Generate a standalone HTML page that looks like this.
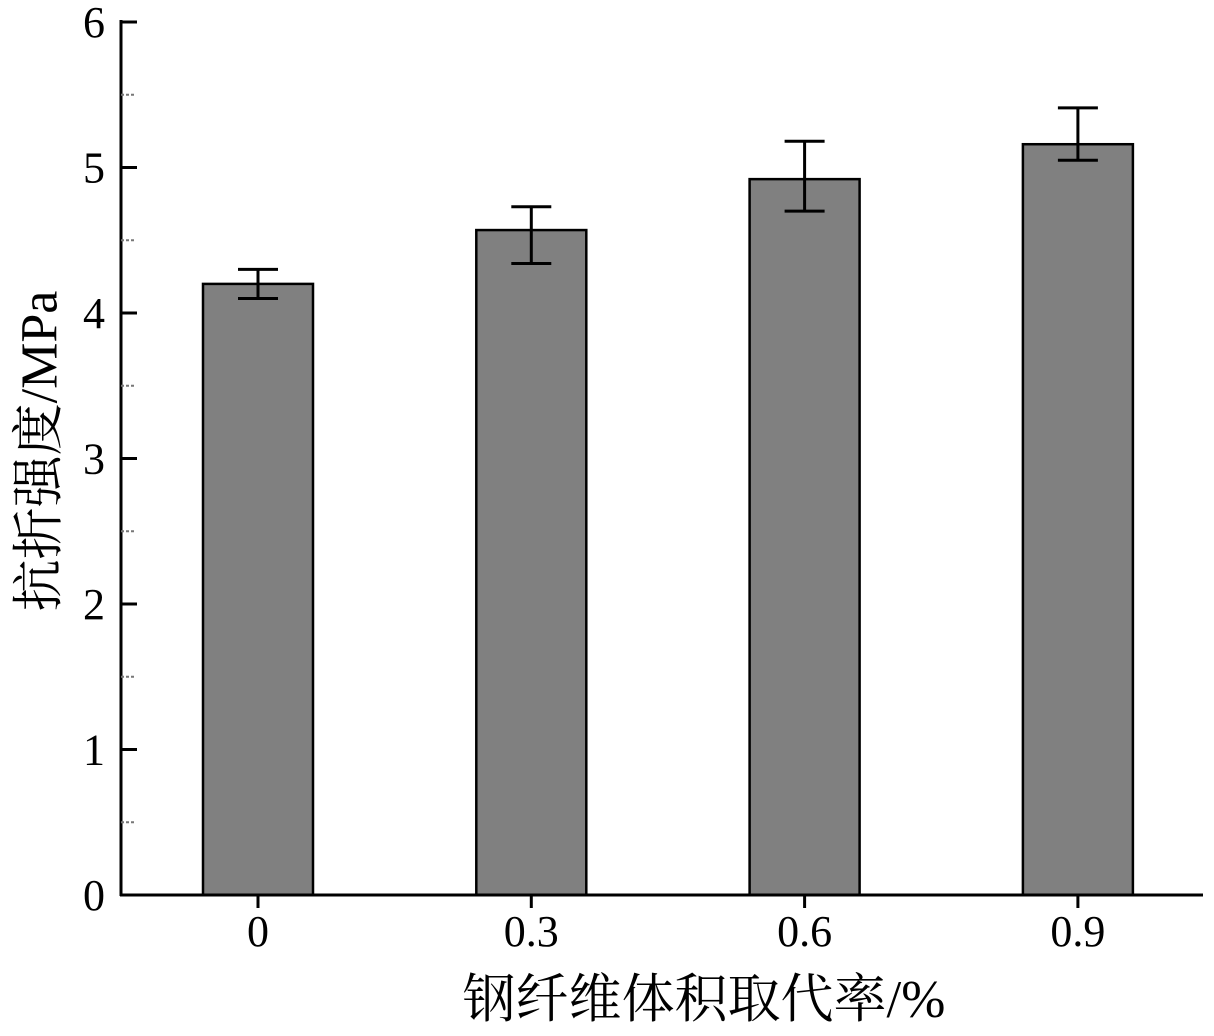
<!DOCTYPE html>
<html><head><meta charset="utf-8"><style>
html,body{margin:0;padding:0;background:#fff;}
svg{display:block;font-family:"Liberation Serif","Noto Serif CJK SC",serif;}
</style></head><body>
<svg id="chart" width="1214" height="1036" viewBox="0 0 1214 1036">
<g id="bars"></g>
<g id="axes"></g>
<text x="40" y="451" transform="rotate(-90 40 451)" text-anchor="middle" font-size="52" dominant-baseline="central">抗折强度/MPa</text>
<text x="704" y="1017" text-anchor="middle" font-size="53">钢纤维体积取代率/%</text>
</svg>
<script>
const categories = ["0","0.3","0.6","0.9"];
const values = [4.2, 4.57, 4.92, 5.16];
const errUpper = [4.30, 4.73, 5.18, 5.41];
const errLower = [4.10, 4.34, 4.70, 5.05];
const yTicks = [0,1,2,3,4,5,6];
const NS="http://www.w3.org/2000/svg";
const x0=121, x1=1203, y0=895, yTop=22;
const yScale=v=>y0-(v/6)*(y0-yTop);
const xCenter=i=>258+i*273.3;
const barW=110, capW=40;
function mk(tag,attrs,parent){const e=document.createElementNS(NS,tag);for(const k in attrs)e.setAttribute(k,attrs[k]);parent.appendChild(e);return e;}
const bars=document.getElementById('bars'), axes=document.getElementById('axes');
categories.forEach((c,i)=>{
  const cx=xCenter(i);
  const r=mk('rect',{x:cx-barW/2,y:yScale(values[i]),width:barW,height:y0-yScale(values[i]),fill:'#808080',stroke:'#000','stroke-width':2.5},bars);
  
  
  const g=mk('g',{stroke:'#000','stroke-width':3,fill:'none'},bars);
  
  
  mk('line',{x1:cx,x2:cx,y1:yScale(errUpper[i]),y2:yScale(errLower[i])},g);
  mk('line',{x1:cx-capW/2,x2:cx+capW/2,y1:yScale(errUpper[i]),y2:yScale(errUpper[i])},g);
  mk('line',{x1:cx-capW/2,x2:cx+capW/2,y1:yScale(errLower[i]),y2:yScale(errLower[i])},g);
  mk('line',{x1:cx,x2:cx,y1:y0,y2:y0+13,stroke:'#000','stroke-width':3},axes);
  const t=mk('text',{x:cx,y:946,'text-anchor':'middle','font-size':44},axes);
  t.textContent=c;
  
  
});
mk('line',{x1:x0,x2:x0,y1:yTop-2,y2:y0+1,stroke:'#000','stroke-width':3},axes);
mk('line',{x1:x0-1,x2:x1,y1:y0,y2:y0,stroke:'#000','stroke-width':3},axes);
yTicks.forEach(v=>{
  const y=yScale(v);
  mk('line',{x1:x0,x2:x0+16,y1:y,y2:y,stroke:'#000','stroke-width':3},axes);
  const t=mk('text',{x:105,y:y+15,'text-anchor':'end','font-size':44},axes);
  t.textContent=v;
  
  
  if(v<6) mk('line',{x1:x0,x2:x0+14,y1:yScale(v+0.5),y2:yScale(v+0.5),stroke:'#777','stroke-width':2,'stroke-dasharray':'3,2'},axes);
});
</script>
</body></html>
